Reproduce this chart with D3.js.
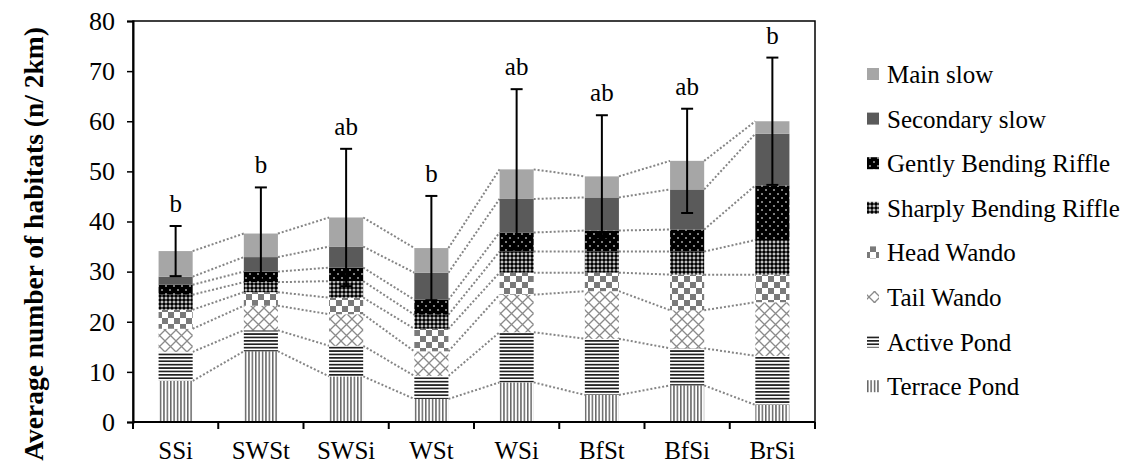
<!DOCTYPE html>
<html><head><meta charset="utf-8">
<script src="https://cdn.jsdelivr.net/npm/d3@7"></script>
<style>body{margin:0;background:#fff}svg{display:block}</style>
</head><body>
<svg id="c" width="1135" height="467"></svg>
<script>
// ---------- data ----------
const categories = ["SSi","SWSt","SWSi","WSt","WSi","BfSt","BfSi","BrSi"];
const seriesNames = ["Terrace Pond","Active Pond","Tail Wando","Head Wando","Sharply Bending Riffle","Gently Bending Riffle","Secondary slow","Main slow"];
const terracePond   = [8.2, 14.1, 9.1, 4.6, 7.9, 5.4, 7.3, 3.4];
const activePond    = [5.8, 4.2, 6.1, 4.6, 10.0, 11.2, 7.4, 9.8];
const tailWando     = [4.6, 4.9, 6.3, 4.9, 7.5, 9.5, 7.6, 10.7];
const headWando     = [3.8, 2.7, 3.3, 4.5, 4.4, 3.7, 7.1, 5.5];
const sharplyRiffle = [3.0, 2.0, 3.3, 2.8, 4.2, 4.2, 4.6, 6.9];
const gentlyRiffle  = [2.0, 2.1, 2.7, 3.0, 3.8, 4.2, 4.4, 10.9];
const secondarySlow = [1.6, 2.9, 4.2, 5.4, 6.7, 6.6, 8.0, 10.3];
const mainSlow      = [5.1, 4.7, 5.8, 4.9, 5.9, 4.2, 5.7, 2.5];
const errorSD       = [5.0, 9.2, 13.7, 10.4, 16.0, 12.2, 10.4, 12.7];
const letters       = ["b","b","ab","b","ab","ab","ab","b"];
const yTicks        = [0,10,20,30,40,50,60,70,80];

const seriesValues = [terracePond, activePond, tailWando, headWando, sharplyRiffle, gentlyRiffle, secondarySlow, mainSlow];
const patIds = ["terrace","active","tail","head","sharp","gently","second","main"];

// ---------- setup ----------
const svg = d3.select("#c");
const FONT = "'Liberation Serif','Times New Roman',serif";
const L = 133, R = 815, T = 21, B = 422;
const x = d3.scaleBand().domain(categories).range([L, R]).paddingInner(0.6).paddingOuter(0.3);
const y = d3.scaleLinear().domain([0, 80]).range([B, T]);

// ---------- patterns ----------
const defs = svg.append("defs");
function pat(id, w, h) {
  return defs.append("pattern").attr("id", id).attr("patternUnits", "userSpaceOnUse")
    .attr("width", w).attr("height", h);
}
let p;
p = pat("main", 4, 4); p.append("rect").attr("width", 4).attr("height", 4).attr("fill", "#a6a6a6");
p = pat("second", 4, 4); p.append("rect").attr("width", 4).attr("height", 4).attr("fill", "#5a5a5a");
p = pat("gently", 8, 8);
p.append("rect").attr("width", 8).attr("height", 8).attr("fill", "#000");
p.append("rect").attr("x", 1.3).attr("y", 1.3).attr("width", 1.4).attr("height", 1.4).attr("fill", "#fff");
p.append("rect").attr("x", 5.3).attr("y", 5.3).attr("width", 1.4).attr("height", 1.4).attr("fill", "#fff");
p = pat("sharp", 4, 4);
p.append("rect").attr("width", 4).attr("height", 4).attr("fill", "#000");
p.append("rect").attr("x", 1.5).attr("y", 0.5).attr("width", 1).attr("height", 3).attr("fill", "#fff");
p.append("rect").attr("x", 0.5).attr("y", 1.5).attr("width", 3).attr("height", 1).attr("fill", "#fff");
p = pat("head", 12, 12);
p.append("rect").attr("width", 12).attr("height", 12).attr("fill", "#fff");
p.append("rect").attr("width", 6).attr("height", 6).attr("fill", "#7a7a7a");
p.append("rect").attr("x", 6).attr("y", 6).attr("width", 6).attr("height", 6).attr("fill", "#7a7a7a");
p = pat("tail", 11, 11);
p.append("rect").attr("width", 11).attr("height", 11).attr("fill", "#fff");
p.append("path").attr("d", "M0,0L11,11M11,0L0,11M-1,10L1,12M10,-1L12,1").attr("stroke", "#8a8a8a").attr("stroke-width", 1.3);
p = pat("active", 4, 3.4);
p.append("rect").attr("width", 4).attr("height", 3.4).attr("fill", "#fff");
p.append("rect").attr("width", 4).attr("height", 1.7).attr("fill", "#222");
p = pat("terrace", 3.4, 4);
p.append("rect").attr("width", 3.4).attr("height", 4).attr("fill", "#fff");
p.append("rect").attr("width", 1.5).attr("height", 4).attr("fill", "#666");

// ---------- stack ----------
const rows = categories.map((c, i) => {
  const o = { cat: c };
  seriesNames.forEach((s, k) => o[s] = seriesValues[k][i]);
  return o;
});
const stacked = d3.stack().keys(seriesNames)(rows);

// connector dotted lines
const conn = svg.append("g");
stacked.forEach(layer => {
  for (let i = 0; i < categories.length - 1; i++) {
    conn.append("line")
      .attr("x1", x(categories[i]) + x.bandwidth())
      .attr("x2", x(categories[i + 1]))
      .attr("y1", y(layer[i][1]))
      .attr("y2", y(layer[i + 1][1]))
      .attr("stroke", "#858585").attr("stroke-width", 2).attr("stroke-dasharray", "2,2");
  }
});

// bars
stacked.forEach((layer, k) => {
  svg.append("g").selectAll("rect").data(layer).join("rect")
    .attr("x", d => x(d.data.cat))
    .attr("width", x.bandwidth())
    .attr("y", d => y(d[1]))
    .attr("height", d => y(d[0]) - y(d[1]))
    .attr("fill", `url(#${patIds[k]})`);
});

// error bars
const totals = categories.map((c, i) => d3.sum(seriesValues, s => s[i]));
const eg = svg.append("g").attr("stroke", "#000").attr("stroke-width", 2);
categories.forEach((c, i) => {
  const cx = x(c) + x.bandwidth() / 2;
  const hi = y(totals[i] + errorSD[i]), lo = y(totals[i] - errorSD[i]);
  eg.append("line").attr("x1", cx).attr("x2", cx).attr("y1", hi).attr("y2", lo);
  eg.append("line").attr("x1", cx - 6).attr("x2", cx + 6).attr("y1", hi).attr("y2", hi);
  eg.append("line").attr("x1", cx - 6).attr("x2", cx + 6).attr("y1", lo).attr("y2", lo);
  svg.append("text").attr("x", cx).attr("y", hi - 14).attr("text-anchor", "middle")
    .attr("font-family", FONT).attr("font-size", 25).text(letters[i]);
});

// frame
svg.append("rect").attr("x", L).attr("y", T).attr("width", R - L).attr("height", B - T)
  .attr("fill", "none").attr("stroke", "#000").attr("stroke-width", 1.5);

// y axis
const ya = svg.append("g").attr("transform", `translate(${L},0)`)
  .call(d3.axisLeft(y).tickValues(yTicks).tickSize(6).tickPadding(12));
ya.select(".domain").attr("stroke-width", 2);
ya.selectAll(".tick line").attr("stroke-width", 1.5);
ya.selectAll("text").attr("font-family", FONT).attr("font-size", 26).attr("fill", "#000");

// x axis: boundary ticks + labels
const step = x.step();
const xb = svg.append("g").attr("stroke", "#000").attr("stroke-width", 2);
xb.append("line").attr("x1", L).attr("x2", R).attr("y1", B).attr("y2", B);
d3.range(categories.length + 1).forEach(k => {
  const bx = L + k * step;
  xb.append("line").attr("x1", bx).attr("x2", bx).attr("y1", B).attr("y2", B + 7);
});
svg.append("g").selectAll("text").data(categories).join("text")
  .attr("x", d => x(d) + x.bandwidth() / 2).attr("y", 459)
  .attr("text-anchor", "middle").attr("font-family", FONT).attr("font-size", 25).text(d => d);

// y title
svg.append("text").attr("transform", "translate(33,244) rotate(-90)")
  .attr("text-anchor", "middle").attr("dominant-baseline", "central")
  .attr("font-family", FONT).attr("font-weight", "bold").attr("font-size", 27.5)
  .text("Average number of habitats (n/ 2km)");

// legend
const legendOrder = seriesNames.map((s, k) => k).reverse();
const lg = svg.append("g");
legendOrder.forEach((k, j) => {
  const by = 83 + j * 44.6;
  lg.append("rect").attr("x", 867).attr("y", by - 15).attr("width", 12).attr("height", 12)
    .attr("fill", `url(#${patIds[k]})`);
  lg.append("text").attr("x", 887).attr("y", by).attr("font-family", FONT).attr("font-size", 25)
    .text(seriesNames[k]);
});
</script>
</body></html>
